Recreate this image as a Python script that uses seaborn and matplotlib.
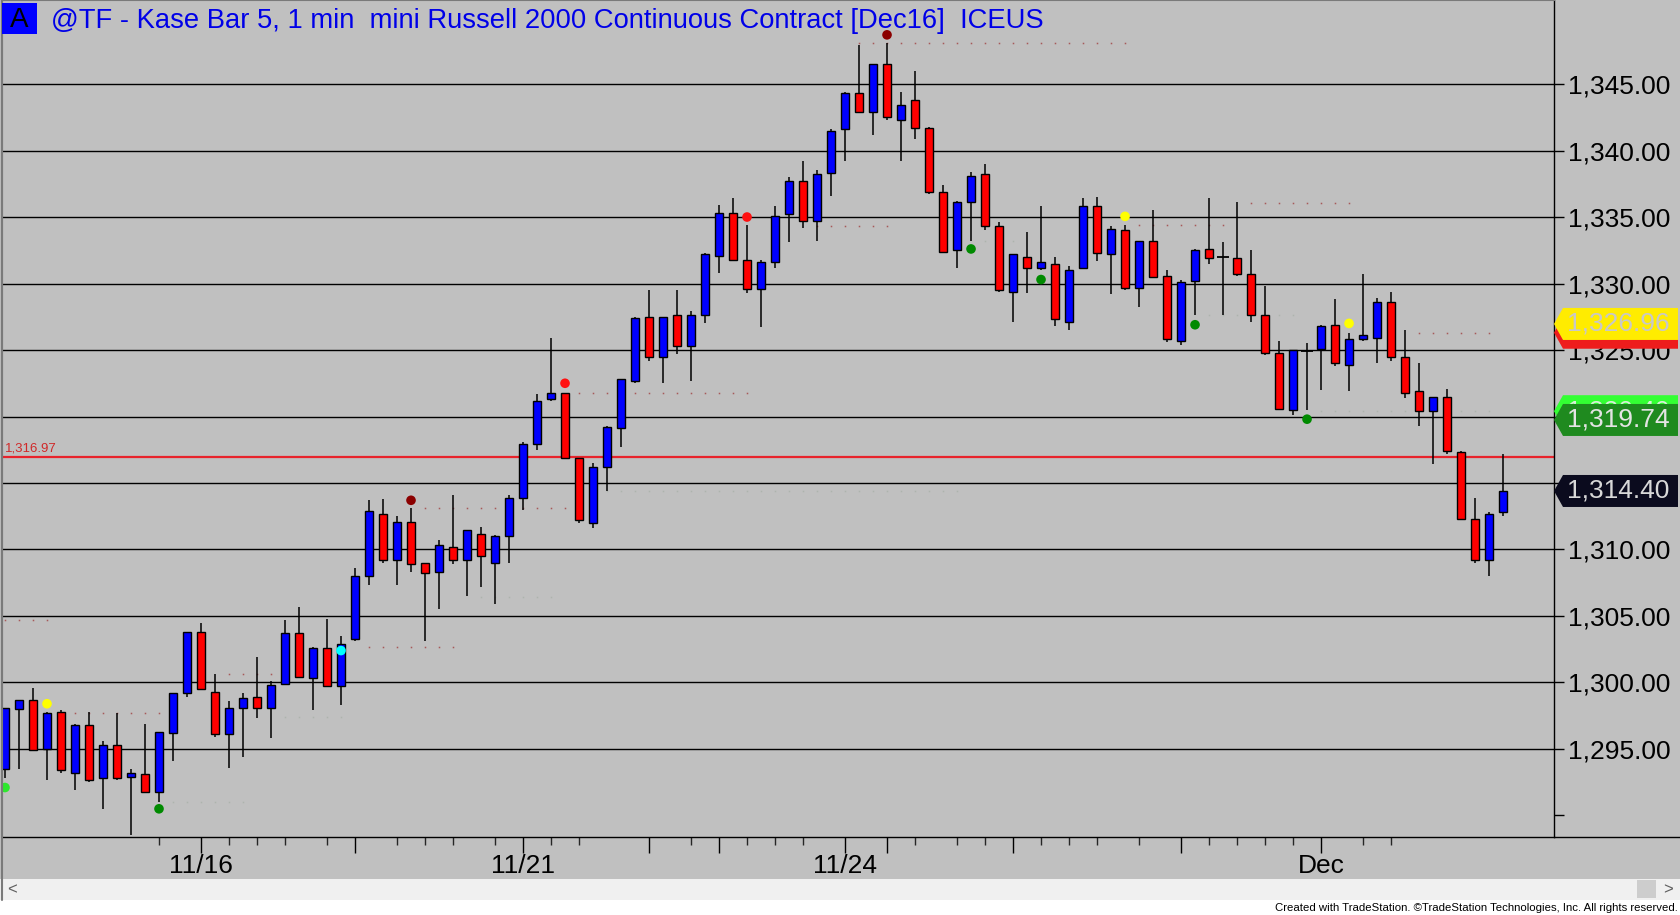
import numpy as np
import pandas as pd
import matplotlib
matplotlib.use("Agg")
import matplotlib.pyplot as plt
from matplotlib.patches import Polygon, Rectangle
from matplotlib.lines import Line2D
import seaborn as sns

# ---------------- data ----------------
opens = [1293.5, 1298.0, 1298.7, 1295.0, 1297.8, 1293.2, 1296.8, 1292.8, 1295.3, 1292.9,
         1293.1, 1291.8, 1296.2, 1299.2, 1303.8, 1299.3, 1296.1, 1298.1, 1298.9, 1298.1,
         1299.9, 1303.7, 1300.3, 1302.6, 1299.7, 1303.3, 1308.0, 1312.7, 1309.2, 1312.1,
         1309.0, 1308.3, 1310.2, 1309.2, 1311.2, 1309.0, 1311.0, 1313.9, 1317.9, 1321.3,
         1321.8, 1316.9, 1312.0, 1316.2, 1319.1, 1322.7, 1327.5, 1324.5, 1327.6, 1325.3,
         1327.6, 1332.1, 1335.3, 1331.8, 1329.6, 1331.6, 1335.2, 1337.7, 1334.7, 1338.3,
         1341.6, 1344.3, 1342.9, 1346.5, 1342.3, 1343.8, 1341.7, 1336.9, 1332.5, 1336.1,
         1338.2, 1334.3, 1329.4, 1332.0, 1331.2, 1331.5, 1327.1, 1331.2, 1335.8, 1332.2,
         1334.0, 1329.7, 1333.2, 1330.6, 1325.7, 1330.2, 1332.6, 1332.0, 1331.9, 1330.7,
         1327.6, 1324.8, 1320.5, 1324.9, 1325.1, 1326.9, 1323.9, 1325.8, 1325.9, 1328.6,
         1324.5, 1321.9, 1320.4, 1321.5, 1317.3, 1312.3, 1309.2, 1312.8]
highs = [1298.1, 1298.7, 1299.6, 1297.8, 1297.9, 1296.9, 1297.8, 1295.6, 1297.7, 1293.5,
         1296.9, 1296.3, 1299.2, 1303.8, 1304.5, 1300.6, 1298.6, 1299.2, 1301.9, 1300.1,
         1304.7, 1305.7, 1302.7, 1304.8, 1303.5, 1308.6, 1313.7, 1313.8, 1312.5, 1313.1,
         1309.0, 1310.7, 1314.1, 1311.5, 1311.7, 1311.1, 1314.1, 1318.1, 1321.7, 1325.9,
         1321.8, 1316.9, 1316.5, 1319.3, 1322.8, 1327.5, 1329.5, 1327.5, 1329.5, 1327.9,
         1332.3, 1335.9, 1336.4, 1334.4, 1331.8, 1335.8, 1338.0, 1339.2, 1338.5, 1341.6,
         1344.4, 1347.9, 1346.5, 1348.1, 1344.4, 1346.0, 1341.8, 1337.4, 1336.2, 1338.4,
         1339.0, 1334.6, 1332.2, 1333.9, 1335.8, 1332.0, 1331.3, 1336.4, 1336.5, 1334.3,
         1334.4, 1333.2, 1335.5, 1331.0, 1330.3, 1332.6, 1336.4, 1333.1, 1336.1, 1332.5,
         1329.8, 1325.7, 1325.0, 1325.5, 1326.9, 1328.8, 1326.3, 1330.7, 1328.9, 1329.4,
         1326.5, 1324.0, 1321.5, 1322.1, 1317.4, 1313.9, 1312.8, 1317.2]
lows = [1292.8, 1293.5, 1294.9, 1292.7, 1293.2, 1291.9, 1292.5, 1290.5, 1292.7, 1288.5,
        1291.7, 1291.0, 1294.1, 1298.9, 1299.4, 1295.9, 1293.6, 1294.4, 1297.3, 1295.8,
        1299.8, 1300.4, 1297.9, 1299.7, 1298.3, 1303.1, 1307.3, 1309.0, 1307.3, 1308.3,
        1303.1, 1305.5, 1308.9, 1306.5, 1307.2, 1305.9, 1309.0, 1313.0, 1317.5, 1321.2,
        1316.9, 1312.0, 1311.6, 1314.4, 1317.7, 1322.5, 1324.2, 1322.5, 1324.7, 1322.7,
        1327.0, 1330.8, 1331.7, 1329.3, 1326.7, 1331.2, 1333.1, 1334.2, 1333.2, 1336.6,
        1339.2, 1342.8, 1341.2, 1342.3, 1339.2, 1340.9, 1336.7, 1332.3, 1331.2, 1333.2,
        1334.0, 1329.4, 1327.1, 1329.3, 1331.0, 1326.8, 1326.5, 1331.1, 1331.7, 1329.2,
        1329.5, 1328.2, 1330.5, 1325.6, 1325.4, 1327.6, 1331.5, 1327.6, 1330.6, 1327.1,
        1324.6, 1320.5, 1320.1, 1320.5, 1322.0, 1323.8, 1321.9, 1325.7, 1324.0, 1324.2,
        1321.4, 1319.3, 1316.4, 1317.2, 1312.3, 1309.0, 1308.0, 1312.5]
closes = [1298.1, 1298.7, 1294.9, 1297.7, 1293.4, 1296.8, 1292.7, 1295.3, 1292.8, 1293.2,
          1291.8, 1296.3, 1299.2, 1303.8, 1299.5, 1296.1, 1298.1, 1298.8, 1298.1, 1299.8,
          1303.7, 1300.4, 1302.6, 1299.7, 1302.9, 1308.0, 1312.9, 1309.2, 1312.1, 1308.9,
          1308.2, 1310.3, 1309.2, 1311.5, 1309.5, 1311.0, 1313.9, 1317.9, 1321.2, 1321.8,
          1316.9, 1312.2, 1316.2, 1319.2, 1322.8, 1327.4, 1324.5, 1327.5, 1325.3, 1327.6,
          1332.2, 1335.3, 1331.8, 1329.6, 1331.6, 1335.1, 1337.7, 1334.7, 1338.2, 1341.5,
          1344.3, 1342.9, 1346.5, 1342.5, 1343.4, 1341.7, 1336.9, 1332.4, 1336.1, 1338.1,
          1334.3, 1329.5, 1332.2, 1331.2, 1331.6, 1327.3, 1331.0, 1335.8, 1332.3, 1334.1,
          1329.7, 1333.2, 1330.5, 1325.8, 1330.1, 1332.5, 1331.9, 1332.0, 1330.7, 1327.6,
          1324.8, 1320.6, 1325.0, 1324.9, 1326.8, 1324.0, 1325.8, 1326.1, 1328.6, 1324.5,
          1321.8, 1320.4, 1321.5, 1317.4, 1312.3, 1309.2, 1312.7, 1314.4]

signal_idx = [0, 3, 11, 24, 29, 40, 53, 63, 69, 74, 80, 85, 93, 96]
signal_price = [1292.1, 1298.4, 1290.5, 1302.4, 1313.7, 1322.5, 1335.0, 1348.7,
                1332.6, 1330.3, 1335.05, 1326.9, 1319.8, 1327.0]
signal_kind = ['lime', 'yellow', 'dkgreen', 'cyan', 'maroon', 'red', 'red', 'maroon',
               'dkgreen', 'dkgreen', 'yellow', 'dkgreen', 'dkgreen', 'yellow']

level_start = [0, 5, 12, 16, 20, 26, 30, 34, 41, 43, 58, 61, 70, 81, 86, 89, 94, 101]
level_end = [3, 11, 17, 19, 24, 32, 40, 39, 53, 68, 63, 80, 72, 87, 92, 96, 106, 106]
level_price = [1304.7, 1297.7, 1291.0, 1300.6, 1297.4, 1302.7, 1313.1, 1306.4, 1321.8,
               1314.4, 1334.3, 1348.1, 1333.2, 1334.4, 1327.6, 1336.05, 1320.4, 1326.3]
level_kind = ['r', 'r', 'g', 'r', 'g', 'r', 'r', 'g', 'r', 'g', 'r', 'r', 'g', 'r', 'g',
              'r', 'g', 'r']

date_label_idx = [14, 37, 60, 94]
date_labels = ['11/16', '11/21', '11/24', 'Dec']
session_idx = [25, 46, 51, 63, 72, 84]
minor_idx = [11, 16, 18, 20, 23, 28, 30, 32, 35, 39, 41, 49, 53, 55, 57, 65, 68, 70,
             74, 76, 78, 81, 86, 88, 90, 92, 97, 99]
price_ticks = [1290, 1295, 1300, 1305, 1310, 1315, 1320, 1325, 1330, 1335, 1340, 1345]

ref_price = 1316.97
box_values = [1326.30, 1326.96, 1320.40, 1319.74, closes[-1]]
box_show_text = [False, True, True, True, True]
title = "@TF - Kase Bar 5, 1 min  mini Russell 2000 Continuous Contract [Dec16]  ICEUS"
footer = "Created with TradeStation. \u00a9TradeStation Technologies, Inc. All rights reserved."

# ---------------- style ----------------
sns.set_style("white")
plt.rcParams['font.family'] = ['Liberation Sans', 'DejaVu Sans']

W, H = 1680, 915
BG = '#c0c0c0'
fig = plt.figure(figsize=(W / 100, H / 100), dpi=100)
fig.patch.set_facecolor(BG)

ax_left, ax_right, ax_bottom = 2, 1554, 837
ax = fig.add_axes([ax_left / W, 1 - ax_bottom / H, (ax_right - ax_left) / W, ax_bottom / H])
ax.set_facecolor(BG)
ax.set_xlim(-0.214, 110.64)
ax.set_ylim(1288.38, 1351.32)

idx = np.arange(len(closes))
o = np.array(opens); c = np.array(closes); hi = np.array(highs); lo = np.array(lows)

# grid lines
for p in price_ticks[1:]:
    ax.axhline(p, color='black', lw=1.0, zorder=1)

# indicator dotted levels (faint)
lvl_colors = {'r': '#a24848', 'g': '#aab2aa'}
for s, e, p, k in zip(level_start, level_end, level_price, level_kind):
    xs = np.arange(s, e + 1)
    ax.plot(xs, [p] * len(xs), linestyle='none', marker='s', markersize=1.1,
            markeredgewidth=0, color=lvl_colors[k], alpha=0.85, zorder=1.2)

# reference line
ax.axhline(ref_price, color='#e8232b', lw=1.6, zorder=1.5)
ax.annotate(f"{ref_price:,.2f}", xy=(0, ref_price), xycoords=('axes fraction', 'data'),
            xytext=(3, 2), textcoords='offset pixels', ha='left', va='bottom',
            color='#d02828', fontsize=9.5)

# wicks
ax.vlines(idx, lo, hi, color='black', lw=1.1, zorder=2)
# bodies
up = c > o
dn = c < o
dj = c == o
ax.bar(idx[up], (c - o)[up], bottom=o[up], width=0.56, color='#0000ff',
       edgecolor='black', linewidth=1.0, zorder=3)
ax.bar(idx[dn], (o - c)[dn], bottom=c[dn], width=0.56, color='#ff0000',
       edgecolor='black', linewidth=1.0, zorder=3)
ax.hlines(c[dj], idx[dj] - 0.4, idx[dj] + 0.4, color='black', lw=1.3, zorder=3)

# signal dots
sig = pd.DataFrame({'idx': signal_idx, 'price': signal_price, 'kind': signal_kind})
pal = {'lime': '#2ee82e', 'yellow': '#ffff00', 'dkgreen': '#008a00', 'cyan': '#00ffff',
       'maroon': '#8b0000', 'red': '#ff1010'}
sns.scatterplot(data=sig, x='idx', y='price', hue='kind', palette=pal, s=48,
                edgecolor='none', legend=False, ax=ax, zorder=4)
ax.set_xlabel('')
ax.set_ylabel('')

# axes ticks
ax.yaxis.tick_right()
ax.set_yticks(price_ticks)
ax.set_yticklabels([''] + [f"{v:,.2f}" for v in price_ticks[1:]])
ax.tick_params(axis='y', which='major', direction='out', length=7, width=1,
               pad=3, labelsize=19, colors='black', right=True, left=False)

maj = sorted(date_label_idx + session_idx)
lab_map = dict(zip(date_label_idx, date_labels))
ax.set_xticks(maj)
ax.set_xticklabels([lab_map.get(m, '') for m in maj])
ax.set_xticks(minor_idx, minor=True)
ax.tick_params(axis='x', which='major', direction='out', length=11.5, width=1,
               pad=0.5, labelsize=19, colors='black', bottom=True)
ax.tick_params(axis='x', which='minor', direction='out', length=6, width=1,
               bottom=True)

for side in ['left', 'top']:
    ax.spines[side].set_color('#7a7a7a')
    ax.spines[side].set_linewidth(1.5)
for side in ['right', 'bottom']:
    ax.spines[side].set_color('black')
    ax.spines[side].set_linewidth(1.0)

# extend the time axis line to the right edge
fig.add_artist(Line2D([ax_right / W, 1], [1 - ax_bottom / H] * 2,
                      transform=fig.transFigure, color='black', lw=1.0))

# scrollbar and footer band
fig.add_artist(Rectangle((0, 1 - 900 / H), 1, 21 / H, transform=fig.transFigure,
                         facecolor='#f0f0f0', edgecolor='none', zorder=0.5))
fig.add_artist(Rectangle((0, 0), 1, 15 / H, transform=fig.transFigure,
                         facecolor='white', edgecolor='none', zorder=0.5))
fig.add_artist(Rectangle((1637 / W, 1 - 898 / H), 19 / W, 18 / H, transform=fig.transFigure,
                         facecolor='#cdcdcd', edgecolor='none', zorder=0.6))
fig.text(12 / W, 1 - 889.5 / H, '<', color='#606060', fontsize=12, ha='center', va='center')
fig.text(1668 / W, 1 - 889.5 / H, '>', color='#606060', fontsize=12, ha='center', va='center')
fig.add_artist(Line2D([1.5 / W, 1.5 / W], [1 - 900 / H, 1], transform=fig.transFigure,
                      color='#7a7a7a', lw=1.5))
fig.text(1678 / W, 1 - 908 / H, footer, ha='right', va='center', fontsize=8.2,
         color='black')

# title block
fig.add_artist(Rectangle((2 / W, 1 - 34 / H), 35 / W, 31 / H, transform=fig.transFigure,
                         facecolor='#0000ff', edgecolor='none', zorder=2))
fig.text(19.5 / W, 1 - 20 / H, 'A', ha='center', va='center', fontsize=20, color='black',
         zorder=3)
fig.text(51 / W, 1 - 21 / H, title, ha='left', va='center', fontsize=19.7, color='#0000e8',
         zorder=3)

# right side price boxes
fig.canvas.draw()
box_fc = ['#ee1c1c', '#ffec00', '#33ff33', '#1f8a1f', '#0b0b1e']
box_tc = ['#e6e6e6', '#c8c8c8', '#d8f0d8', '#e4e4e4', '#d8d8d8']
for k, (val, fc, tc, show) in enumerate(zip(box_values, box_fc, box_tc, box_show_text)):
    yc = ax.transData.transform((0, val))[1]
    verts = [(ax_right, yc), (ax_right + 9, yc + 16), (1678, yc + 16), (1678, yc - 16),
             (ax_right + 9, yc - 16)]
    fig.add_artist(Polygon(verts, closed=True, transform=None, facecolor=fc,
                           edgecolor='none', zorder=5 + 2 * k))
    if show:
        fig.text(1567 / W, yc / H, f"{val:,.2f}", ha='left', va='center', fontsize=19,
                 color=tc, zorder=6 + 2 * k)

fig.savefig('out.png', dpi=100, facecolor=fig.get_facecolor())
